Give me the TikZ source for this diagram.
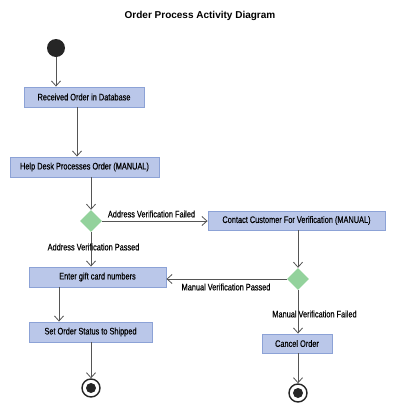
\documentclass[tikz,border=0pt]{standalone}
\usepackage{fontspec}
\setmainfont{Liberation Sans}
\newfontfamily\condfont[FakeStretch=0.775, FakeBold=0.3]{Liberation Sans}
\usetikzlibrary{arrows.meta,shapes.geometric,shadows}
\definecolor{actfill}{HTML}{BAC7E9}
\definecolor{actline}{HTML}{8CA2D6}
\definecolor{decfill}{HTML}{93D29C}
\definecolor{flow}{HTML}{555555}
\begin{document}
\begin{tikzpicture}[x=1pt, y=-1pt,
  act/.style={draw=actline, fill=actfill, line width=0.9pt, minimum height=20pt, inner sep=0pt,
    font=\condfont\fontsize{9.5}{11}\selectfont,
    drop shadow={shadow xshift=1pt, shadow yshift=-1pt, fill=black!30, opacity=0.4}},
  decision/.style={diamond, fill=decfill, minimum width=22pt, minimum height=22pt, inner sep=0pt},
  startdot/.style={circle, fill=black!85, minimum size=18pt, inner sep=0pt},
  enddot/.style={circle, draw=black!85, line width=1.4pt, minimum size=18pt, inner sep=0pt,
    path picture={\fill[black!85] (path picture bounding box.center) circle (5pt);}},
  arr/.style={draw=flow, line width=0.8pt, -{Straight Barb[length=5pt, width=9pt]}},
  guard/.style={font=\condfont\fontsize{9.5}{11}\selectfont}]
\useasboundingbox (0,0) rectangle (400,418);
\node[font=\bfseries\fontsize{10}{12}\selectfont] (title) at (200,16) {Order Process Activity Diagram};
\node[startdot] (start) at (56,48) {};
\node[act, minimum width=120pt] (recv) at (84,97) {Received Order in Database};
\node[act, minimum width=149pt] (help) at (84.5,167) {Help Desk Processes Order (MANUAL)};
\node[decision] (d1) at (91,221) {};
\node[act, minimum width=177pt, minimum height=19pt] (contact) at (296.5,220.5) {Contact Customer For Verification (MANUAL)};
\node[act, minimum width=137pt] (gift) at (97.5,277) {Enter gift card numbers};
\node[decision] (d2) at (298,279) {};
\node[act, minimum width=123pt] (ship) at (90.5,332) {Set Order Status to Shipped};
\node[act, minimum width=70pt, minimum height=19pt] (cancel) at (297,343.5) {Cancel Order};
\node[enddot] (end1) at (91,388) {};
\node[enddot] (end2) at (298,393) {};
% flows
\draw[arr] (start.south) -- (start.south |- recv.north);
\draw[arr] ([xshift=-7pt]recv.south) -- ([xshift=-7pt]recv.south |- help.north);
\draw[arr] (help.south -| d1) -- (d1.north);
\draw[arr] (d1.east) -- (d1.east -| contact.west);
\draw[arr] (d1.south) -- (d1 |- gift.north);
\draw[arr] (contact.south -| d2) -- (d2.north);
\draw[arr] (d2.west) -- (d2 -| gift.east);
\draw[arr] (d2.south) -- (d2 |- cancel.north);
\draw[arr] ([xshift=-38.5pt]gift.south) -- ([xshift=-38.5pt]gift.south |- ship.north);
\draw[arr] (ship.south -| end1) -- (end1.north);
\draw[arr] (cancel.south -| end2) -- (end2.north);
% guards
\node[guard] (g1) at (151.5,214) {Address Verification Failed};
\node[guard] (g2) at (93.5,247) {Address Verification Passed};
\node[guard] (g3) at (226,287) {Manual Verification Passed};
\node[guard] (g4) at (314.5,314) {Manual Verification Failed};
\end{tikzpicture}
\end{document}
